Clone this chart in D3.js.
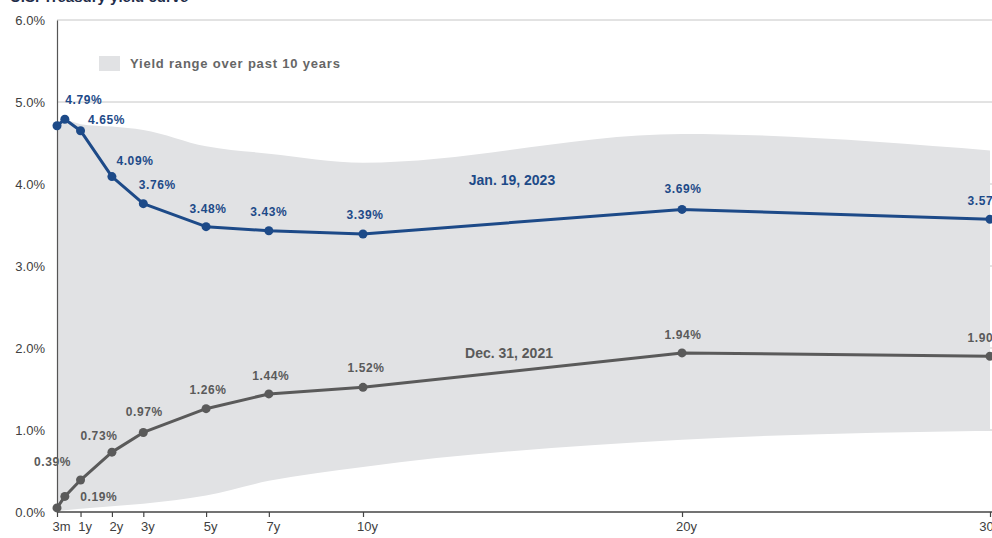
<!DOCTYPE html>
<html>
<head>
<meta charset="utf-8">
<script src="https://cdn.jsdelivr.net/npm/d3@7"></script>
<style>
  body { margin: 0; background: #fff; }
  svg { display: block; font-family: "Liberation Sans", Arial, sans-serif; }
  .tick-y text { font-size: 13px; fill: #404040; }
  .tick-x text { font-family: "Liberation Sans Narrow", "Arial Narrow", "Liberation Sans", sans-serif; font-size: 13px; fill: #404040; }
  .lbl { font-size: 12px; font-weight: bold; letter-spacing: 0.6px; }
</style>
</head>
<body>
<svg id="chart"></svg>
<script>
// maturities in years
const maturities = [0.25, 0.5, 1, 2, 3, 5, 7, 10, 20, 30];
const tickMaturities = [0.25, 1, 2, 3, 5, 7, 10, 20, 30];
const tickLabels = ['3m', '1y', '2y', '3y', '5y', '7y', '10y', '20y', '30'];

const jan2023 = [4.71, 4.79, 4.65, 4.09, 3.76, 3.48, 3.43, 3.39, 3.69, 3.57];
const dec2021 = [0.05, 0.19, 0.39, 0.73, 0.97, 1.26, 1.44, 1.52, 1.94, 1.90];
const rangeHigh = [4.76, 4.78, 4.73, 4.70, 4.66, 4.46, 4.37, 4.26, 4.61, 4.41];
const rangeLow = [0.01, 0.02, 0.04, 0.07, 0.1, 0.2, 0.38, 0.55, 0.88, 0.99];

const yTicks = [0, 1, 2, 3, 4, 5, 6];

// which points carry a value label
const janLabelShow = [false, true, true, true, true, true, true, true, true, true];
const decLabelShow = [false, true, true, true, true, true, true, true, true, true];

const width = 992, height = 538;
const svg = d3.select('#chart').attr('width', width).attr('height', height);

// the original spacing is not quite linear past 10y, so use a piecewise scale
const x = d3.scaleLinear().domain([0.25, 10, 20, 30]).range([57, 363, 682, 990]);
const y = d3.scaleLinear().domain([0, 6]).range([512, 20]);

const navy = '#1d4a88';
const grey = '#5a5a5a';

// title (cut at the top of the picture)
svg.append('text')
  .attr('x', 10).attr('y', 2)
  .attr('font-size', 15).attr('font-weight', 'bold').attr('fill', '#1f2d4a')
  .text('U.S. Treasury yield curve');

// gridlines
svg.append('g').selectAll('line')
  .data(yTicks.filter(d => d > 0))
  .join('line')
    .attr('x1', 57).attr('x2', width)
    .attr('y1', d => y(d)).attr('y2', d => y(d))
    .attr('stroke', '#c6c6c6').attr('stroke-width', 1);

// yield range area
const rangeData = maturities.map((m, i) => ({ m, lo: rangeLow[i], hi: rangeHigh[i] }));
svg.append('path')
  .datum(rangeData)
  .attr('fill', '#e1e2e4')
  .attr('d', d3.area()
    .x(d => x(d.m)).y0(d => y(d.lo)).y1(d => y(d.hi))
    .curve(d3.curveMonotoneX));

// legend
svg.append('rect').attr('x', 99).attr('y', 56).attr('width', 21).attr('height', 15).attr('fill', '#e1e2e4');
svg.append('text').attr('x', 130).attr('y', 68)
  .attr('font-size', 13).attr('font-weight', 'bold').attr('letter-spacing', 0.8).attr('fill', '#666')
  .text('Yield range over past 10 years');

// axes
const yAxis = d3.axisLeft(y).tickValues(yTicks).tickFormat(d => d.toFixed(1) + '%').tickSize(0).tickPadding(12);
svg.append('g').attr('class', 'tick-y')
  .attr('transform', 'translate(57,0)')
  .call(yAxis)
  .call(g => g.select('.domain').attr('stroke', '#555').attr('stroke-width', 1.2));

const xAxis = d3.axisBottom(x).tickValues(tickMaturities)
  .tickFormat((d, i) => tickLabels[i]).tickSize(5).tickSizeOuter(0).tickPadding(5);
svg.append('g').attr('class', 'tick-x')
  .attr('transform', 'translate(0,512)')
  .call(xAxis)
  .call(g => g.select('.domain').attr('stroke', '#444').attr('stroke-width', 1.5).attr('d', 'M57,0H992'))
  .call(g => g.selectAll('.tick line').attr('stroke', '#444').attr('stroke-width', 1.2))
  .call(g => g.selectAll('.tick text').attr('dx', (d, i) => i === tickMaturities.length - 1 ? -4 : 4));

// series
function drawSeries(vals, color, show, offsets) {
  const pts = maturities.map((m, i) => ({ m, v: vals[i], i }));
  svg.append('path').datum(pts)
    .attr('fill', 'none').attr('stroke', color).attr('stroke-width', 3)
    .attr('stroke-linejoin', 'round')
    .attr('d', d3.line().x(d => x(d.m)).y(d => y(d.v)));
  svg.append('g').selectAll('circle').data(pts).join('circle')
    .attr('cx', d => x(d.m)).attr('cy', d => y(d.v)).attr('r', 4.5).attr('fill', color);
  svg.append('g').selectAll('text').data(pts.filter(d => show[d.i])).join('text')
    .attr('class', 'lbl')
    .attr('fill', color)
    .attr('text-anchor', 'middle')
    .attr('x', d => x(d.m) + offsets[d.i][0])
    .attr('y', d => y(d.v) + offsets[d.i][1])
    .text(d => d.v.toFixed(2) + '%');
}

const janOffsets = [[0, 0], [19, -15], [26, -7], [23, -12], [14, -15], [2, -14], [0, -15], [2, -15], [1, -16], [-4, -14]];
const decOffsets = [[0, 0], [34, 5], [-28, -14], [-13, -12], [1, -16], [2, -15], [2, -14], [3, -15], [1, -14], [-4, -14]];

drawSeries(jan2023, navy, janLabelShow, janOffsets);
drawSeries(dec2021, grey, decLabelShow, decOffsets);

// series names
svg.append('text').attr('x', 512).attr('y', 185).attr('text-anchor', 'middle')
  .attr('font-size', 14).attr('font-weight', 'bold').attr('fill', navy).text('Jan. 19, 2023');
svg.append('text').attr('x', 509).attr('y', 358).attr('text-anchor', 'middle')
  .attr('font-size', 14).attr('font-weight', 'bold').attr('fill', grey).text('Dec. 31, 2021');
</script>
</body>
</html>
